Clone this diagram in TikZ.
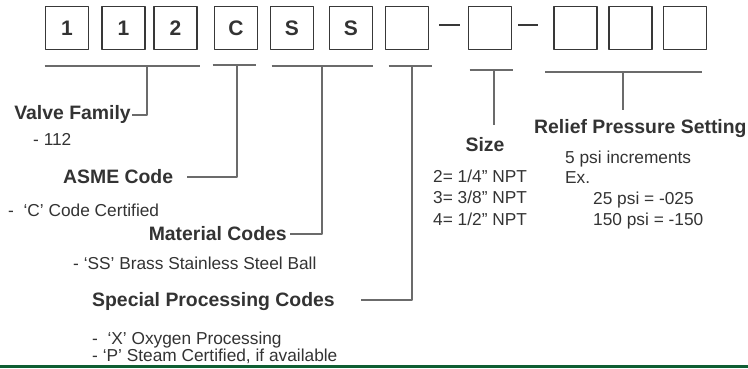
\documentclass[tikz,border=0pt]{standalone}
\usepackage{fontspec}
\setmainfont{Liberation Sans}
\definecolor{txtcol}{rgb}{0.2,0.2,0.2}
\definecolor{boxcol}{rgb}{0.22,0.22,0.22}
\definecolor{linecol}{rgb}{0.42,0.42,0.42}
\definecolor{rulecol}{rgb}{0.06,0.37,0.2}
\begin{document}
\begin{tikzpicture}[x=1pt,y=-1pt,line join=bevel,
  codebox/.style={draw=boxcol,line width=1.7pt,minimum size=43pt,inner sep=0pt,
    text=txtcol,font=\bfseries\fontsize{21}{21}\selectfont},
  heading/.style={text=txtcol,inner sep=1pt,text height=13.8pt,text depth=0pt,
    font=\bfseries\fontsize{19.4}{21}\selectfont},
  entry/.style={text=txtcol,inner sep=0pt,text height=12.3pt,text depth=0pt,
    font=\fontsize{17.3}{19}\selectfont},
  bracket/.style={draw=linecol,line width=1.1pt},
  dashmark/.style={draw=boxcol,line width=1.4pt},
]
\useasboundingbox (0,0) rectangle (748,368);
%%
  % Node: code boxes
  \node[codebox] (b1) at (67,28) {1};
  \node[codebox] (b2) at (123.5,28) {1};
  \node[codebox] (b3) at (175.5,28) {2};
  \node[codebox] (b4) at (236,28) {C};
  \node[codebox] (b5) at (292,28) {S};
  \node[codebox] (b6) at (351,28) {S};
  \node[codebox] (b7) at (407,28) {};
  \node[codebox] (b8) at (490,28) {};
  \node[codebox] (b9) at (575.5,28) {};
  \node[codebox] (b10) at (630.5,28) {};
  \node[codebox] (b11) at (685,28) {};
  \draw[dashmark] ([shift={(10,-3)}]b7.east) -- ([shift={(-8,-3)}]b8.west);
  \draw[dashmark] ([shift={(6,-3)}]b8.east) -- ([shift={(-15,-3)}]b9.west);
  % Node: labels
  \node[heading,anchor=east] (valve) at (132,113) {Valve Family};
  \node[entry,anchor=west] (fam) at (33,139) {- 112};
  \node[heading,anchor=west] (asme) at (62,177) {ASME Code};
  \node[entry,anchor=west] (asmecert) at (8,210) {-\ \ ‘C’ Code Certified};
  \node[heading,anchor=east] (material) at (288,234) {Material Codes};
  \node[entry,anchor=west] (ssball) at (73,263) {- ‘SS’ Brass Stainless Steel Ball};
  \node[heading,anchor=west] (special) at (91,300) {Special Processing Codes};
  \node[entry,anchor=west] (oxy) at (92,338.5) {-\ \ ‘X’ Oxygen Processing};
  \node[entry,anchor=west] (steam) at (92,355) {- ‘P’ Steam Certified, if available};
  \node[heading] (size) at (485,145) {Size};
  \node[entry,anchor=west] (sz2) at (433,176) {2= 1/4” NPT};
  \node[entry,anchor=west] (sz3) at (433,197.5) {3= 3/8” NPT};
  \node[entry,anchor=west] (sz4) at (433,219) {4= 1/2” NPT};
  \node[heading,anchor=west] (relief) at (533,127) {Relief Pressure Setting};
  \node[entry,anchor=west] (incr) at (565,157) {5 psi increments};
  \node[entry,anchor=west] (ex) at (565,177) {Ex.};
  \node[entry,anchor=west] (p25) at (593,198) {25 psi = -025};
  \node[entry,anchor=west] (p150) at (593,219) {150 psi = -150};
  % Edge: underline tops
  \coordinate (u1) at (147,66);
  \coordinate (u2) at (237,65);
  \coordinate (u3) at (322,66);
  \coordinate (u4) at (412,66);
  \coordinate (u5) at (494,70);
  \coordinate (u6) at (623,72);
  \coordinate (sizetip) at ([yshift=12pt]size.north);
  \coordinate (relieftip) at ([yshift=9pt]relief.north);
  % Edge: 112 -> valve
  \draw[bracket] (b1.west |- u1) -- ([xshift=2pt]b3.east |- u1);
  \draw[bracket] (u1) |- ([yshift=-2pt]valve.east);
  % Edge: C -> asme
  \draw[bracket] ([xshift=-1pt]b4.west |- u2) -- ([xshift=-2pt]b4.east |- u2);
  \draw[bracket] (u2) |- ([xshift=13pt]asme.east);
  % Edge: SS -> material
  \draw[bracket] ([xshift=2pt]b5.west |- u3) -- (b6.east |- u3);
  \draw[bracket] (u3) |- ([xshift=2pt]material.east);
  % Edge: blank -> special
  \draw[bracket] ([xshift=4pt]b7.west |- u4) -- ([xshift=3pt]b7.east |- u4);
  \draw[bracket] (u4) |- ([xshift=25pt]special.east);
  % Edge: blank -> size
  \draw[bracket] ([xshift=2pt]b8.west |- u5) -- ([xshift=1pt]b8.east |- u5);
  \draw[bracket] (u5) -- (u5 |- sizetip);
  % Edge: blanks -> relief
  \draw[bracket] ([xshift=-8pt]b9.west |- u6) -- ([xshift=-5pt]b11.east |- u6);
  \draw[bracket] (u6) -- (u6 |- relieftip);
  % footer rule
  \draw[rulecol,line width=3.5pt] (0,366.5) -- (748,366.5);
%
\end{tikzpicture}
\end{document}
